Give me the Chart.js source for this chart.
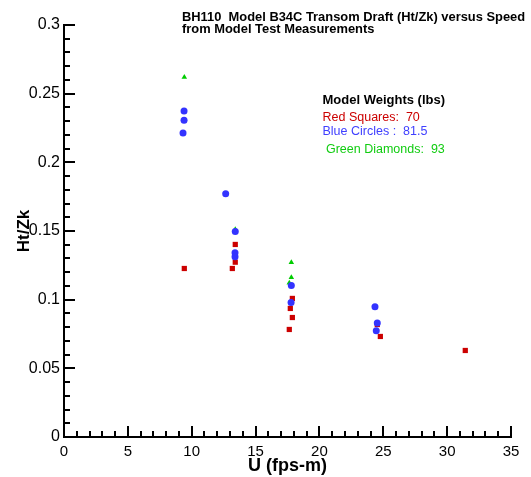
<!DOCTYPE html>
<html>
<head>
<meta charset="utf-8">
<script src="https://cdn.jsdelivr.net/npm/chart.js@4.4.1/dist/chart.umd.min.js"></script>
<style>
  html, body { margin: 0; padding: 0; background: #fff; }
</style>
</head>
<body>
<canvas id="c" width="531" height="477"></canvas>
<script>
// chart text
const titleLines = ['BH110  Model B34C Transom Draft (Ht/Zk) versus Speed', 'from Model Test Measurements'];
const legendHeader = 'Model Weights (lbs)';
const legendLines = ['Red Squares:  70', 'Blue Circles :  81.5', ' Green Diamonds:  93'];
const xTitle = 'U (fps-m)';
const yTitle = 'Ht/Zk';

// 70 lbs - red squares
const redU = [9.42, 13.18, 13.41, 13.41, 17.88, 17.72, 17.88, 17.64, 24.53, 24.77, 31.42];
const redH = [0.1227, 0.1227, 0.1273, 0.1402, 0.1009, 0.0936, 0.0870, 0.0783, 0.0819, 0.0732, 0.0630];

// 81.5 lbs - blue circles
const blueU = [9.40, 9.40, 9.32, 12.66, 13.41, 13.39, 13.39, 17.80, 17.78, 24.35, 24.53, 24.45];
const blueH = [0.2374, 0.2306, 0.2214, 0.1771, 0.1497, 0.1341, 0.1312, 0.1103, 0.0980, 0.0948, 0.0831, 0.0773];

// 93 lbs - green triangles
const greenU = [9.42, 13.41, 17.80, 17.80, 17.64];
const greenH = [0.2620, 0.1512, 0.1271, 0.1162, 0.1122];

const xMax = 35, xMajor = 5;
const yMax = 0.3, yMajor = 0.05;

const pts = (us, hs) => us.map((u, i) => ({ x: u, y: hs[i] }));
const FONT = '"Liberation Sans", Arial, sans-serif';

// tecplot-style ticks pointing into the plot, with minor ticks
const innerTicks = {
  id: 'innerTicks',
  afterDatasetsDraw(chart) {
    const { ctx, chartArea: a, scales: { x, y } } = chart;
    ctx.save();
    ctx.strokeStyle = '#000';
    ctx.lineWidth = 2;
    ctx.beginPath();
    for (let v = 0; v <= xMax; v++) {
      const px = Math.round(x.getPixelForValue(v));
      const len = v % xMajor === 0 ? 11 : 6;
      ctx.moveTo(px, a.bottom);
      ctx.lineTo(px, a.bottom - len);
    }
    for (let i = 0; i <= 30; i++) {
      const py = Math.round(y.getPixelForValue(i / 100));
      const len = i % 5 === 0 ? 11 : 6;
      ctx.moveTo(a.left, py);
      ctx.lineTo(a.left + len, py);
    }
    ctx.stroke();
    ctx.restore();
  }
};

// title and the weights note
const notes = {
  id: 'notes',
  afterDraw(chart) {
    const ctx = chart.ctx;
    ctx.save();
    ctx.textBaseline = 'alphabetic';
    ctx.textAlign = 'left';
    ctx.fillStyle = '#000';
    ctx.font = 'bold 12.9px ' + FONT;
    ctx.fillText(titleLines[0], 182, 21);
    ctx.fillText(titleLines[1], 182, 32.5);

    ctx.font = 'bold 13px ' + FONT;
    ctx.fillText(legendHeader, 322.5, 103.5);
    ctx.font = '12.5px ' + FONT;
    const cols = ['#cc0000', '#4040ff', '#11cc11'];
    const ys = [120.7, 135, 152.7];
    legendLines.forEach((t, i) => {
      ctx.fillStyle = cols[i];
      ctx.fillText(t, 322.5, ys[i]);
    });
    ctx.restore();
  }
};

new Chart(document.getElementById('c'), {
  type: 'scatter',
  data: {
    datasets: [
      { label: 'Blue Circles', data: pts(blueU, blueH), pointStyle: 'circle', pointRadius: 3.5,
        backgroundColor: '#3333ff', borderWidth: 0 },
      { label: 'Green Diamonds', data: pts(greenU, greenH), pointStyle: 'triangle', pointRadius: 3.2,
        backgroundColor: '#00cc00', borderWidth: 0 },
      { label: 'Red Squares', data: pts(redU, redH), pointStyle: 'rect', pointRadius: 3.7,
        backgroundColor: '#cc0000', borderWidth: 0 }
    ]
  },
  options: {
    responsive: false,
    animation: false,
    events: [],
    layout: { padding: { left: 0, top: 25, right: 20, bottom: 0 } },
    plugins: { legend: { display: false }, tooltip: { enabled: false } },
    scales: {
      x: {
        type: 'linear', min: 0, max: xMax,
        afterFit: s => { s.height = 40; },
        grid: { display: false, drawTicks: false },
        border: { display: true, color: '#000', width: 2 },
        ticks: { stepSize: xMajor, padding: 6, color: '#000', font: { family: FONT, size: 15 } },
        title: { display: true, text: xTitle, color: '#000', padding: { top: 0, bottom: 0 },
                 font: { family: FONT, size: 18, weight: 'bold' } }
      },
      y: {
        type: 'linear', min: 0, max: yMax,
        afterFit: s => { s.width = 64; },
        grid: { display: false, drawTicks: false },
        border: { display: true, color: '#000', width: 2 },
        ticks: { stepSize: yMajor, padding: 4, color: '#000', font: { family: FONT, size: 16 },
                 callback: v => String(+v.toFixed(2)) },
        title: { display: true, text: yTitle, color: '#000', padding: { top: 14, bottom: 0 },
                 font: { family: FONT, size: 17, weight: 'bold' } }
      }
    }
  },
  plugins: [innerTicks, notes]
});
</script>
</body>
</html>
